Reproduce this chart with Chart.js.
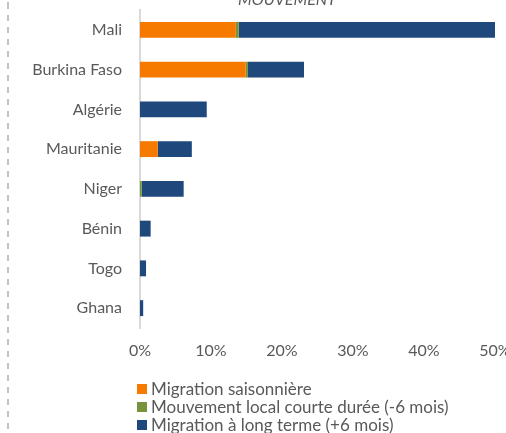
<!DOCTYPE html>
<html>
<head>
<meta charset="utf-8">
<script src="https://cdn.jsdelivr.net/npm/chart.js@4"></script>
<style>
  html, body { margin: 0; padding: 0; background: #fff; overflow: hidden; }
  #wrap { position: relative; width: 506px; height: 433px; overflow: hidden; }
  #dash {
    position: absolute; left: 7px; top: 0; width: 2px; height: 433px;
    background: repeating-linear-gradient(to bottom, #c4c4c4 0 6px, transparent 6px 12px);
    background-position: 0 3px;
  }
  #myChart { position: absolute; left: 0; top: 0; }
</style>
</head>
<body>
<div id="wrap">
  <div id="dash"></div>
  <canvas id="myChart" width="510" height="433"></canvas>
</div>
<script>
/* data (percent) */
const countries = ['Mali', 'Burkina Faso', 'Algérie', 'Mauritanie', 'Niger', 'Bénin', 'Togo', 'Ghana']
const seasonal = [13.5, 14.9, 0, 2.5, 0, 0, 0, 0]
const shortLocal = [0.4, 0.3, 0, 0, 0.25, 0, 0, 0]
const longTerm = [36.1, 7.9, 9.4, 4.8, 5.9, 1.5, 0.85, 0.45]
const xTicks = [0, 10, 20, 30, 40, 50]

const seriesNames = [
  'Migration saisonnière',
  'Mouvement local courte durée (-6 mois)',
  'Migration à long terme (+6 mois)'
]
const titleText = 'MOUVEMENT'
const colors = ['#F77A00', '#77933C', '#1F497D']
const textColor = '#595959'

Chart.defaults.font.family = 'Lato'
Chart.defaults.color = textColor

// title (cut by the top edge) and a vertical legend list under the axis
const extras = {
  id: 'extras',
  afterDraw(chart) {
    const ctx = chart.ctx, area = chart.chartArea
    ctx.save()
    ctx.fillStyle = textColor
    ctx.font = 'italic 16px Lato'
    ctx.textAlign = 'center'
    ctx.textBaseline = 'alphabetic'
    ctx.fillText(titleText, 287, 4.5)

    ctx.font = '17px Lato'
    ctx.textAlign = 'left'
    ctx.textBaseline = 'middle'
    chart.data.datasets.forEach((ds, i) => {
      const y = area.bottom + 61 + i * 18
      ctx.fillStyle = ds.backgroundColor
      ctx.fillRect(area.left - 3, y - 5, 10, 10)
      ctx.fillStyle = textColor
      ctx.fillText(ds.label, area.left + 11, y + 1)
    })
    ctx.restore()
  }
}

const ctx = document.getElementById('myChart').getContext('2d')
const myChart = new Chart(ctx, {
  type: 'bar',
  data: {
    labels: countries,
    datasets: [seasonal, shortLocal, longTerm].map((vals, i) => ({
      label: seriesNames[i],
      data: vals,
      backgroundColor: colors[i],
      barPercentage: 0.4,
      categoryPercentage: 1
    }))
  },
  options: {
    indexAxis: 'y',
    responsive: false,
    animation: false,
    layout: { autoPadding: false, padding: { left: 0, right: 15, top: 10, bottom: 74 } },
    scales: {
      x: {
        stacked: true,
        min: 0,
        max: 50,
        afterBuildTicks: s => { s.ticks = xTicks.map(v => ({ value: v })) },
        afterFit: s => { s.height = 31; s.paddingLeft = 0; s.paddingRight = 0 },
        grid: { display: false, drawTicks: false },
        border: { display: false },
        ticks: { padding: 13, font: { size: 16 }, callback: v => v + '%' }
      },
      y: {
        stacked: true,
        afterFit: s => { s.width = 140; s.paddingTop = 0; s.paddingBottom = 0 },
        grid: { display: false, drawTicks: false },
        border: { display: true, color: '#d9d9d9', width: 2 },
        ticks: { padding: 18, font: { size: 16 } }
      }
    },
    plugins: {
      legend: { display: false },
      tooltip: { enabled: false },
      title: { display: false }
    }
  },
  plugins: [extras]
})
</script>
</body>
</html>
